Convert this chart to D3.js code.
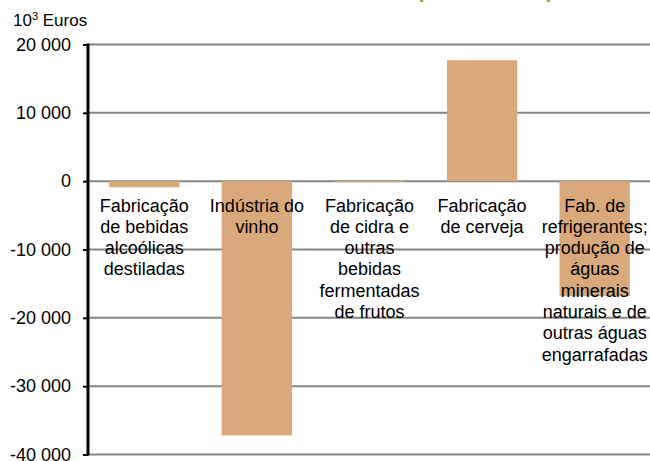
<!DOCTYPE html>
<html>
<head>
<meta charset="utf-8">
<script src="https://cdn.jsdelivr.net/npm/d3@7"></script>
<style>
  body { margin: 0; background: #fff; }
  svg { display: block; font-family: "Liberation Sans", Arial, sans-serif; }
</style>
</head>
<body>
<svg id="chart"></svg>
<script>
// data
const categories = ['destiladas', 'vinho', 'cidra', 'cerveja', 'refrigerantes']
const labelLines = [
  ['Fabricação', 'de bebidas', 'alcoólicas', 'destiladas'],
  ['Indústria do', 'vinho'],
  ['Fabricação', 'de cidra e', 'outras', 'bebidas', 'fermentadas', 'de frutos'],
  ['Fabricação', 'de cerveja'],
  ['Fab. de', 'refrigerantes;', 'produção de', 'águas', 'minerais', 'naturais e de', 'outras águas', 'engarrafadas']
]
const values = [-900, -37200, -150, 17700, -16800]
const yTicks = [20000, 10000, 0, -10000, -20000, -30000, -40000]

const svgWidth = 650
const svgHeight = 461
const svg = d3.select('#chart').attr('width', svgWidth).attr('height', svgHeight)

const plot = { left: 88, right: 651, top: 44.5, bottom: 454.5 }

const x = d3.scaleBand()
  .domain(categories)
  .range([plot.left, plot.right])
  .paddingInner(0.375)
  .paddingOuter(0.1875)

const y = d3.scaleLinear()
  .domain([-40000, 20000])
  .range([plot.bottom, plot.top])

const locale = d3.formatLocale({ decimal: ',', thousands: ' ', grouping: [3], currency: ['', ''], minus: '-' })
const fmt = locale.format(',d')

// cut-off title (only the bottom of it shows)
svg.append('text')
  .attr('x', 417)
  .attr('y', -2)
  .attr('textLength', 136)
  .attr('lengthAdjust', 'spacing')
  .style('font-size', '20px')
  .style('font-weight', 'bold')
  .attr('fill', '#8a9b2c')
  .text('(2010-2011)')

// unit label
const unit = svg.append('text')
  .attr('x', 13)
  .attr('y', 26)
  .style('font-size', '17px')
  .attr('fill', '#000')
unit.append('tspan').text('10')
unit.append('tspan').attr('dy', -6).style('font-size', '11px').text('3')
unit.append('tspan').attr('dy', 6).text(' Euros')

// grid lines
svg.append('g')
  .selectAll('line')
  .data(yTicks)
  .enter()
  .append('line')
  .attr('x1', plot.left)
  .attr('x2', svgWidth)
  .attr('y1', d => y(d))
  .attr('y2', d => y(d))
  .attr('stroke', '#858585')
  .attr('stroke-width', 2)

// bars
svg.append('g')
  .selectAll('rect')
  .data(values)
  .enter()
  .append('rect')
  .attr('x', (d, i) => x(categories[i]))
  .attr('width', x.bandwidth())
  .attr('y', d => y(Math.max(0, d)))
  .attr('height', d => Math.max(1, Math.abs(y(d) - y(0))))
  .attr('fill', '#d9a97b')

// y axis
const yAxis = d3.axisLeft(y)
  .tickValues(yTicks)
  .tickSize(5)
  .tickPadding(12)
  .tickFormat(fmt)

svg.append('g')
  .attr('transform', `translate(${plot.left},0)`)
  .call(yAxis)
  .call(g => g.select('.domain').remove())
  .call(g => g.selectAll('line').attr('stroke', '#000').attr('stroke-width', 2))
  .call(g => g.selectAll('text')
    .attr('fill', '#000')
    .style('font-size', '18px')
    .style('font-family', '"Liberation Sans", Arial, sans-serif'))

svg.append('line')
  .attr('x1', plot.left)
  .attr('x2', plot.left)
  .attr('y1', y(20000) - 1)
  .attr('y2', y(-40000) + 1)
  .attr('stroke', '#000')
  .attr('stroke-width', 3)

// category labels
const labels = svg.append('g')
  .selectAll('text')
  .data(labelLines)
  .enter()
  .append('text')
  .attr('text-anchor', 'middle')
  .style('font-size', '18px')
  .attr('fill', '#000')

labels.each(function (lines, i) {
  const cx = x(categories[i]) + x.bandwidth() / 2
  d3.select(this).selectAll('tspan')
    .data(lines)
    .enter()
    .append('tspan')
    .attr('x', cx)
    .attr('y', (d, j) => 211.5 + j * 21.3)
    .text(d => d)
})
</script>
</body>
</html>
